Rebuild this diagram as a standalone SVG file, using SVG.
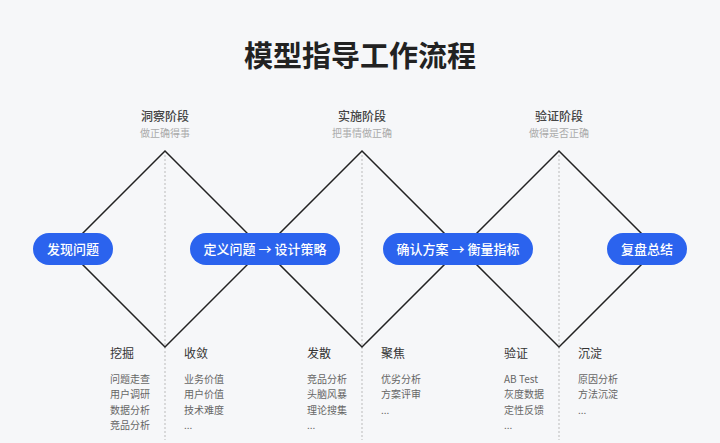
<svg xmlns="http://www.w3.org/2000/svg" width="720" height="443" viewBox="0 0 720 443">
<style>
text{font-family:"Noto Sans CJK SC","Noto Sans",sans-serif}
.t{font-size:29px;font-weight:700;fill:#222;text-anchor:middle}
.ph{font-size:12px;fill:#444;text-anchor:middle;font-weight:500}
.sub{font-size:10px;fill:#aaa;text-anchor:middle}
.pill{fill:#2b63ee}
.pt{font-size:13px;fill:#fff;text-anchor:middle;font-weight:500}
.h{font-size:12px;fill:#333}
.i{font-size:10px;fill:#666}
.ln{fill:none;stroke:#222;stroke-width:1.5}
.dash{stroke:#bbb;stroke-width:1;stroke-dasharray:2 2}
</style>
<rect width="720" height="443" fill="#f6f7f9"/>
<text class="t" x="360" y="67">模型指导工作流程</text>
<g id="connectors">
<line class="dash" x1="165" y1="155" x2="165" y2="440"/>
<line class="dash" x1="362" y1="155" x2="362" y2="440"/>
<line class="dash" x1="559" y1="155" x2="559" y2="440"/>
<polygon class="ln" points="165,151 263,249 165,347 67,249"/>
<polygon class="ln" points="362,151 460,249 362,347 264,249"/>
<polygon class="ln" points="559,151 657,249 559,347 461,249"/>
</g>
<g id="phases">
<text class="ph" x="165" y="121">洞察阶段</text><text class="sub" x="165" y="137">做正确得事</text>
<text class="ph" x="362" y="121">实施阶段</text><text class="sub" x="362" y="137">把事情做正确</text>
<text class="ph" x="559" y="121">验证阶段</text><text class="sub" x="559" y="137">做得是否正确</text>
</g>
<g id="n1"><rect class="pill" x="33" y="233" width="80" height="32" rx="16"/><text class="pt" x="73" y="254">发现问题</text></g>
<g id="n2"><rect class="pill" x="190" y="233" width="150" height="32" rx="16"/><text class="pt" x="265" y="254">定义问题 → 设计策略</text></g>
<g id="n3"><rect class="pill" x="383" y="233" width="150" height="32" rx="16"/><text class="pt" x="458" y="254">确认方案 → 衡量指标</text></g>
<g id="n4"><rect class="pill" x="607" y="233" width="80" height="32" rx="16"/><text class="pt" x="647" y="254">复盘总结</text></g>
<g id="cols">
<text class="h" x="110" y="358">挖掘</text>
<text class="i" x="110" y="383">问题走查</text><text class="i" x="110" y="398">用户调研</text><text class="i" x="110" y="414">数据分析</text><text class="i" x="110" y="429">竞品分析</text>
<text class="h" x="184" y="358">收敛</text>
<text class="i" x="184" y="383">业务价值</text><text class="i" x="184" y="398">用户价值</text><text class="i" x="184" y="414">技术难度</text><text class="i" x="184" y="429">...</text>
<text class="h" x="307" y="358">发散</text>
<text class="i" x="307" y="383">竞品分析</text><text class="i" x="307" y="398">头脑风暴</text><text class="i" x="307" y="414">理论搜集</text><text class="i" x="307" y="429">...</text>
<text class="h" x="381" y="358">聚焦</text>
<text class="i" x="381" y="383">优劣分析</text><text class="i" x="381" y="398">方案评审</text><text class="i" x="381" y="414">...</text>
<text class="h" x="504" y="358">验证</text>
<text class="i" x="504" y="383">AB Test</text><text class="i" x="504" y="398">灰度数据</text><text class="i" x="504" y="414">定性反馈</text><text class="i" x="504" y="429">...</text>
<text class="h" x="578" y="358">沉淀</text>
<text class="i" x="578" y="383">原因分析</text><text class="i" x="578" y="398">方法沉淀</text><text class="i" x="578" y="414">...</text>
</g>
</svg>
